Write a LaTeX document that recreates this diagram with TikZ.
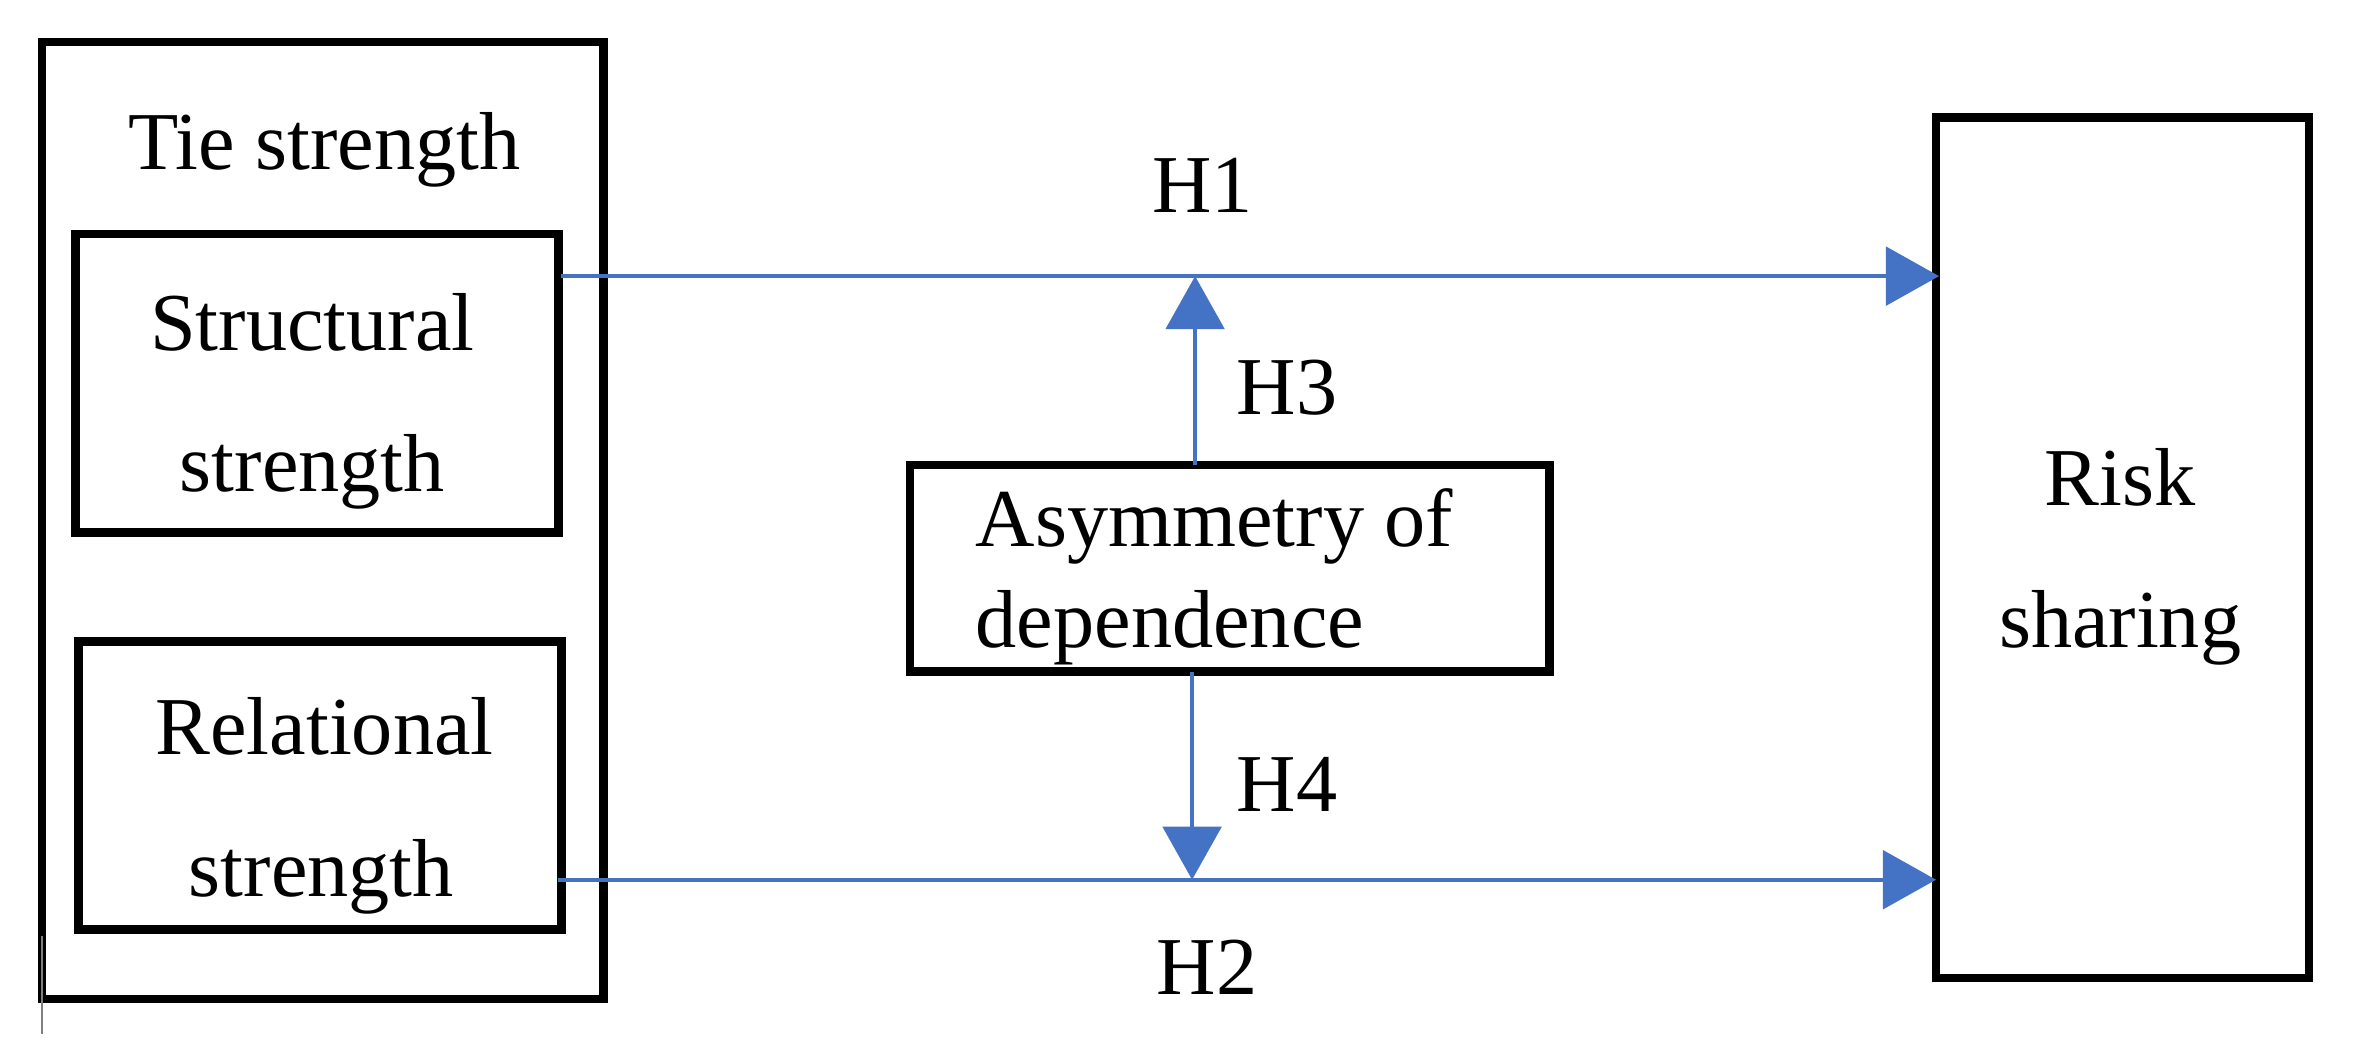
\documentclass[tikz,border=0pt]{standalone}
\usepackage{fontspec}
\setmainfont{Liberation Serif}
\usetikzlibrary{arrows.meta}
\definecolor{arr}{RGB}{68,114,196}
\begin{document}
\begin{tikzpicture}[x=0.01cm,y=-0.01cm,
  box/.style={draw,line width=1.6pt},
  lab/.style={font=\fontsize{15.5}{18}\selectfont,inner sep=0pt,anchor=base},
  con/.style={draw=arr,line width=0.8pt,-{Triangle[length=10pt,width=11pt]}}]
\useasboundingbox (0,0) rectangle (1560,697);
\draw[box] (28,28) rectangle (400,662);
\draw[box] (50,155) rectangle (370,353);
\draw[box] (52,425) rectangle (372,616);
\draw[box] (603,308) rectangle (1027,445);
\draw[box] (1283,78) rectangle (1530,648);
\draw[gray,line width=0.4pt] (28,620) -- (28,685);
\node[lab] (tie) at (215,112) {Tie strength};
\node[lab] (s1) at (207,232) {Structural};
\node[lab] (s2) at (207,326) {strength};
\node[lab] (r1) at (215,500) {Relational};
\node[lab] (r2) at (213,594) {strength};
\node[lab,anchor=base west] (a1) at (646,362) {Asymmetry of};
\node[lab,anchor=base west] (a2) at (646,429) {dependence};
\node[lab] (k1) at (1405,335) {Risk};
\node[lab] (k2) at (1405,429) {sharing};
\node[lab] (h1) at (797,141) {H1};
\node[lab] (h3) at (853,275) {H3};
\node[lab] (h4) at (853,538) {H4};
\node[lab] (h2) at (800,659) {H2};
\coordinate (a) at (372,183); \coordinate (b) at (1285,183);
\coordinate (c) at (370,583); \coordinate (d) at (1283,583);
\coordinate (e) at (792,308); \coordinate (f) at (792,183);
\coordinate (g) at (790,445); \coordinate (h) at (790,583);
\draw[con] (a) -- (b);
\draw[con] (c) -- (d);
\draw[con] (e) -- (f);
\draw[con] (g) -- (h);
\end{tikzpicture}
\end{document}
